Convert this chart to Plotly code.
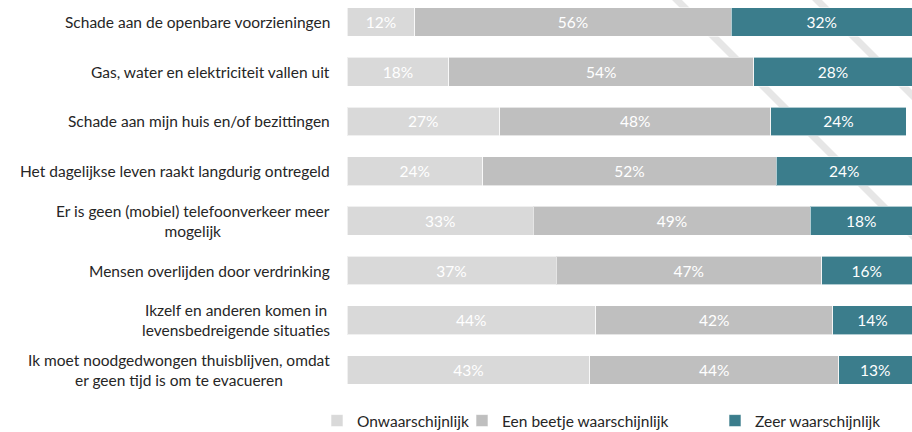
import plotly.graph_objects as go

categories = [
    "Schade aan de openbare voorzieningen",
    "Gas, water en elektriciteit vallen uit",
    "Schade aan mijn huis en/of bezittingen",
    "Het dagelijkse leven raakt langdurig ontregeld",
    "Er is geen (mobiel) telefoonverkeer meer<br>mogelijk",
    "Mensen overlijden door verdrinking",
    "Ikzelf en anderen komen in<br>levensbedreigende situaties",
    "Ik moet noodgedwongen thuisblijven, omdat<br>er geen tijd is om te evacueren",
]
series_names = ["Onwaarschijnlijk", "Een beetje waarschijnlijk", "Zeer waarschijnlijk"]
onwaarschijnlijk = [12, 18, 27, 24, 33, 37, 44, 43]
een_beetje = [56, 54, 48, 52, 49, 47, 42, 44]
zeer = [32, 28, 24, 24, 18, 16, 14, 13]
series_values = [onwaarschijnlijk, een_beetje, zeer]
colors = ["#d9d9d9", "#bfbfbf", "#3b7d8c"]

FONT = "Lato"
FS = 15.5
W, H = 912, 432
L, R, T, B = 347, 0, 0, 37
pw, ph = W - L - R, H - T - B

def px_x(p):
    return (p - L) / pw

def px_y(p):
    return (H - B - p) / ph

fig = go.Figure()
legend_ids = ["legend", "legend2", "legend3"]
for name, vals, col, lg in zip(series_names, series_values, colors, legend_ids):
    fig.add_trace(go.Bar(
        y=list(range(len(categories))), x=vals, name=name, orientation="h",
        marker=dict(color=col, line=dict(color="rgba(255,255,255,0.6)", width=1)),
        text=[f"{v}%" for v in vals], textposition="inside",
        insidetextanchor="middle", constraintext="none",
        textfont=dict(color="white", size=FS, family=FONT),
        legend=lg, hoverinfo="skip", showlegend=True,
    ))

annotations = []
for i, c in enumerate(categories):
    annotations.append(dict(
        x=px_x(332), xref="paper", y=i, yref="y", text=c, showarrow=False,
        xanchor="right", yanchor="middle", align="center",
        font=dict(size=FS, color="#262626", family=FONT),
    ))

shapes = [
    dict(type="line", xref="paper", yref="paper", layer="below",
         x0=px_x(667), y0=px_y(-10), x1=px_x(922), y1=px_y(245),
         line=dict(color="#e6e6e6", width=7)),
    dict(type="line", xref="paper", yref="paper", layer="below",
         x0=px_x(807), y0=px_y(-10), x1=px_x(922), y1=px_y(105),
         line=dict(color="#e6e6e6", width=7)),
]

leg_common = dict(orientation="h", yanchor="middle", xanchor="left",
                  font=dict(size=FS, color="#262626", family=FONT),
                  bgcolor="rgba(0,0,0,0)", itemclick=False)
legy = px_y(421)

fig.update_layout(
    width=W, height=H, showlegend=True,
    margin=dict(l=L, r=R, t=T, b=B, autoexpand=False),
    barmode="stack", bargap=0.42,
    plot_bgcolor="rgba(0,0,0,0)", paper_bgcolor="white",
    xaxis=dict(range=[0, 100], visible=False, fixedrange=True),
    yaxis=dict(range=[7.503, -0.4426], visible=False, fixedrange=True),
    annotations=annotations, shapes=shapes,
    legend=dict(x=px_x(317), y=legy, **leg_common),
    legend2=dict(x=px_x(462), y=legy, **leg_common),
    legend3=dict(x=px_x(715), y=legy, **leg_common),
    font=dict(family=FONT),
)

fig.write_html(
    "out.html",
    config={"displayModeBar": False, "staticPlot": False},
    post_script="document.body.style.margin='0';document.body.style.overflow='hidden';",
)
